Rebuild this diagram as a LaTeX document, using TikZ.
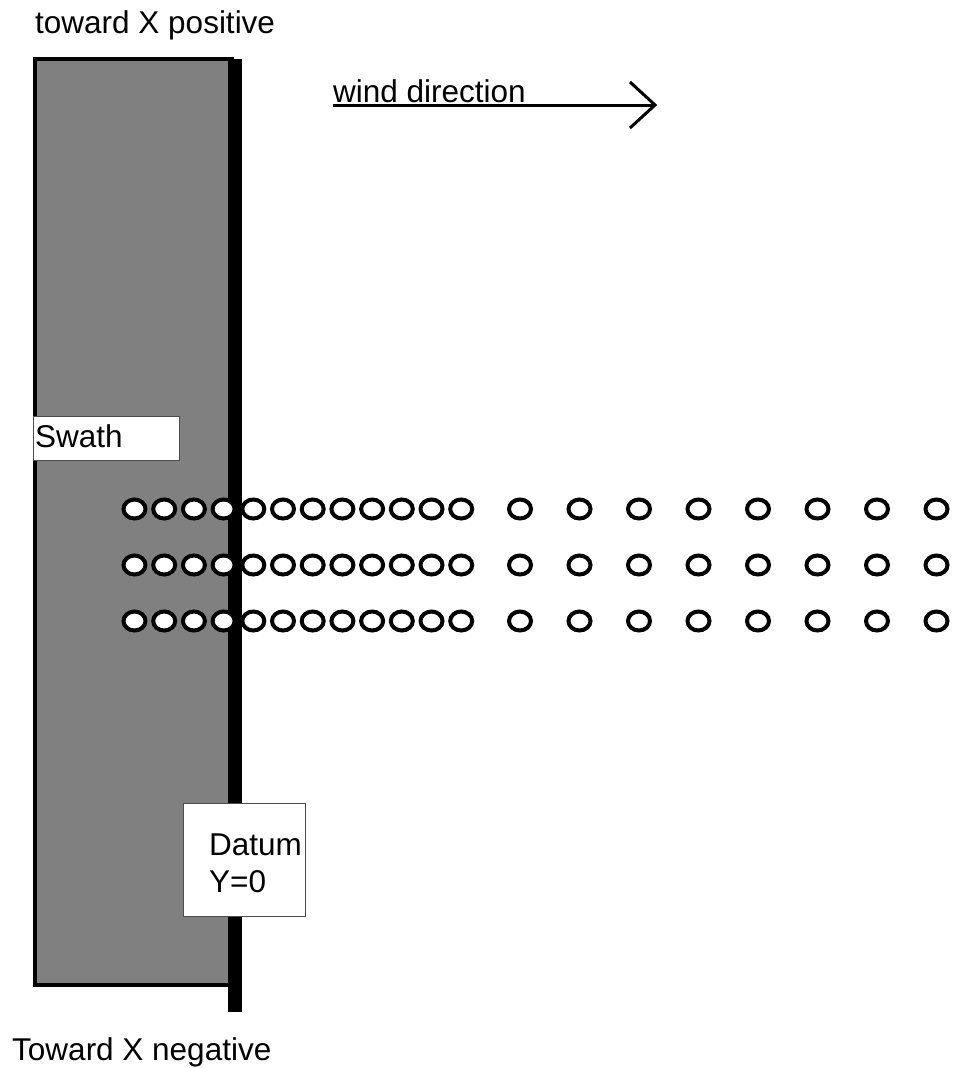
\documentclass[tikz,border=0pt]{standalone}
\usepackage{fontspec}
\usetikzlibrary{shapes.geometric}
\setmainfont{Liberation Sans}
\begin{document}
\begin{tikzpicture}[x=1pt,y=-1pt,
  lbl/.style={inner sep=0pt, anchor=base west, font=\fontsize{31.5}{37}\selectfont},
  tagbox/.style={draw=black!70, line width=1.2pt, fill=white, inner sep=0pt, anchor=north west},
  dot/.style={ellipse, draw=black, line width=4pt, fill=white, minimum width=22pt, minimum height=19pt, inner sep=0pt},
  windline/.style={line width=3pt, line join=miter}]
\useasboundingbox (0,0) rectangle (954,1068);
% swath strip
\draw[fill=gray, line width=4pt] (35,59) rectangle (232,985);
\fill[black] (228,59) rectangle (242,1012);
% labels top and bottom
\node[lbl] (xpos) at (35,33) {toward X positive};
\node[lbl] (xneg) at (12,1060) {Toward X negative};
% wind direction
\node[lbl] (wind) at (333,102) {wind direction};
\coordinate (wa) at (333,105);
\coordinate (wb) at (655,105);
\draw[windline] (wa) -- (wb);
\draw[windline] (wb) ++(-25,-23) -- (wb) -- ++(-25,23);
% swath box
\node[tagbox, minimum width=146pt, minimum height=44pt] (swathbox) at (33,416) {};
\node[lbl] (swath) at (35,447) {Swath};
% datum box
\node[tagbox, minimum width=122pt, minimum height=113pt] (datumbox) at (183,803) {};
\node[lbl] (datum) at (209,855) {Datum};
\node[lbl] (y0) at (209,892) {Y=0};
% receptors
\foreach \yy [count=\r] in {509,565,621} {
  \foreach \i in {0,...,11} {
    \node[dot] (d-\r-\i) at ({134.5+29.7*\i},\yy) {};
  }
  \foreach \i in {0,...,7} {
    \node[dot] (s-\r-\i) at ({520+59.5*\i},\yy) {};
  }
}
\end{tikzpicture}
\end{document}
